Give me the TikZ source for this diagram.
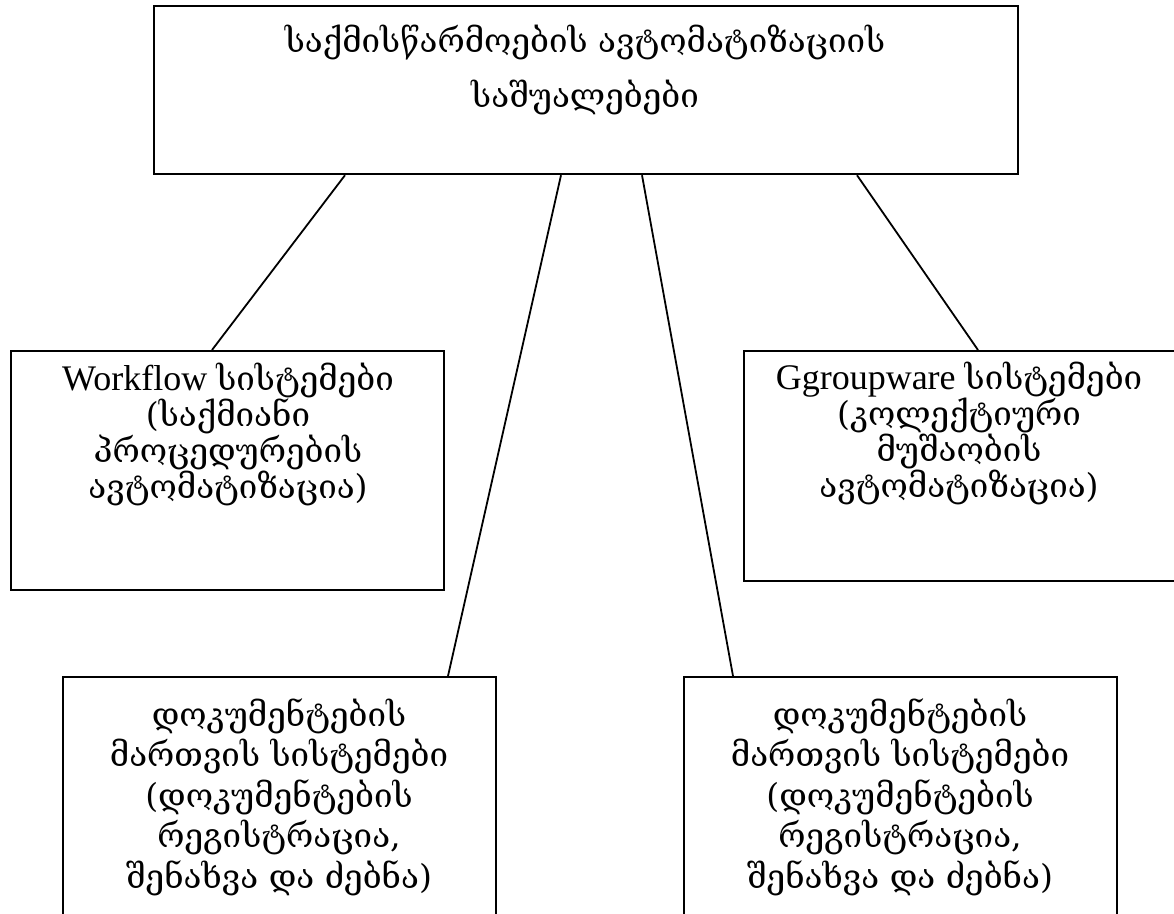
\documentclass[tikz,border=0pt]{standalone}
\usepackage{fontspec}
\setmainfont{Liberation Serif}
\newfontfamily\geo[Scale=0.92]{DejaVu Serif}
\begin{document}
\begin{tikzpicture}[x=1pt,y=-1pt,
  box/.style={draw, line width=2.2pt, inner sep=0pt, anchor=north west},
  link/.style={line width=1.8pt},
  lbl/.style={align=center, inner sep=0pt}]
\useasboundingbox (0,0) rectangle (1174,913);
\clip (0,0) rectangle (1174,913);
% boxes
\node[box, minimum width=864pt, minimum height=168pt] (top) at (153,5) {};
\node[box, minimum width=433pt, minimum height=239pt] (wf) at (10,350) {};
\node[box, minimum width=460pt, minimum height=230pt] (gw) at (743,350) {};
\node[box, minimum width=433pt, minimum height=280pt] (bl) at (62,676) {};
\node[box, minimum width=433pt, minimum height=280pt] (br) at (683,676) {};
% texts
\node[lbl, font=\fontsize{36}{55}\selectfont] (toptxt) at (585,70)
  {\geo საქმისწარმოების ავტომატიზაციის\\\geo საშუალებები};
\node[lbl, font=\fontsize{36}{36}\selectfont] (wftxt) at (228,434)
  {Workflow {\geo სისტემები}\\\geo (საქმიანი\\\geo პროცედურების\\\geo ავტომატიზაცია)};
\node[lbl, font=\fontsize{36}{36}\selectfont] (gwtxt) at (959,433)
  {Ggroupware {\geo სისტემები}\\\geo (კოლექტიური\\\geo მუშაობის\\\geo ავტომატიზაცია)};
\node[lbl, font=\fontsize{36}{40.5}\selectfont] (bltxt) at (279,797)
  {\geo დოკუმენტების\\\geo მართვის სისტემები\\\geo (დოკუმენტების\\\geo რეგისტრაცია,\\\geo შენახვა და ძებნა)};
\node[lbl, font=\fontsize{36}{40.5}\selectfont] (brtxt) at (900,797)
  {\geo დოკუმენტების\\\geo მართვის სისტემები\\\geo (დოკუმენტების\\\geo რეგისტრაცია,\\\geo შენახვა და ძებნა)};
% connectors
\draw[link] ([xshift=192pt]top.south west) -- ([xshift=202pt]wf.north west);
\draw[link] ([xshift=408pt]top.south west) -- ([xshift=386pt]bl.north west);
\draw[link] ([xshift=489pt]top.south west) -- ([xshift=50pt]br.north west);
\draw[link] ([xshift=704pt]top.south west) -- ([xshift=235pt]gw.north west);
\end{tikzpicture}
\end{document}
